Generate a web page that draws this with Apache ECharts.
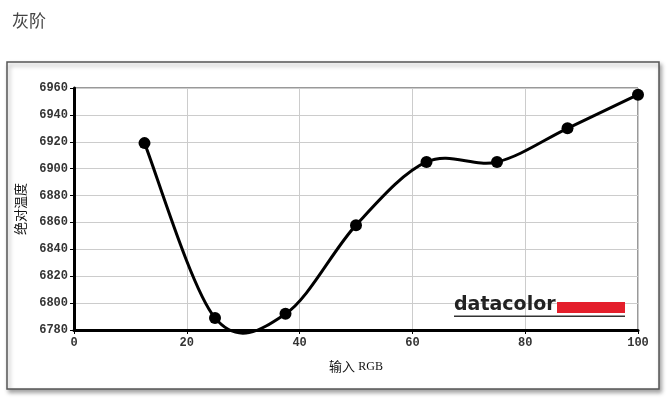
<!DOCTYPE html>
<html>
<head>
<meta charset="utf-8">
<script src="https://cdn.jsdelivr.net/npm/echarts@6/dist/echarts.min.js"></script>
<style>
  html, body { margin: 0; padding: 0; background: #fff; }
  #main { width: 670px; height: 398px; }
</style>
</head>
<body>
<div id="main"></div>
<script>
var inputRgb = [12.5, 25, 37.5, 50, 62.5, 75, 87.5, 100];
var colorTemp = [6919, 6789, 6792, 6858, 6905, 6905, 6930, 6955];
var xTicks = [0, 20, 40, 60, 80, 100];
var yTicks = [6780, 6800, 6820, 6840, 6860, 6880, 6900, 6920, 6940, 6960];

var points = inputRgb.map(function (x, i) { return [x, colorTemp[i]]; });

var myChart = echarts.init(document.getElementById('main'));
var labelFont = {
    color: '#333',
    fontFamily: 'Liberation Mono',
    fontWeight: 'bold',
    fontSize: 12
};

// catmull-rom curve through the data, in pixel space
function renderCurve(params, api) {
    if (params.dataIndex !== 0) return null;
    var p = points.map(function (d) { return api.coord(d); });
    var n = p.length;
    var path = [['M', p[0][0], p[0][1]]];
    for (var i = 0; i < n - 1; i++) {
        var p0 = p[i > 0 ? i - 1 : i];
        var p1 = p[i];
        var p2 = p[i + 1];
        var p3 = p[i + 2 < n ? i + 2 : i + 1];
        var c1x = p1[0] + (p2[0] - p0[0]) / 6;
        var c1y = p1[1] + (p2[1] - p0[1]) / 6;
        var c2x = p2[0] - (p3[0] - p1[0]) / 6;
        var c2y = p2[1] - (p3[1] - p1[1]) / 6;
        path.push(['C', c1x, c1y, c2x, c2y, p2[0], p2[1]]);
    }
    var d = path.map(function (s) { return s[0] + s.slice(1).join(','); }).join(' ');
    return {
        type: 'path',
        shape: { pathData: d },
        style: { fill: null, stroke: '#000', lineWidth: 3 }
    };
}

option = {
    backgroundColor: '#fff',
    animation: false,
    title: {
        text: '灰阶',
        left: 7,
        top: 7,
        textStyle: { color: '#444', fontSize: 17, fontWeight: 'normal', fontFamily: 'Noto Sans CJK SC' }
    },
    graphic: [
        {
            type: 'rect',
            shape: { x: 7, y: 62, width: 652, height: 327 },
            style: { fill: '#fff', stroke: '#555', lineWidth: 1.5, shadowBlur: 4, shadowOffsetX: 2, shadowOffsetY: 3, shadowColor: 'rgba(0,0,0,0.35)' },
            z: -10
        },
        {
            type: 'text',
            left: 454,
            top: 296,
            style: { text: 'datacolor', fill: '#222', font: 'bold 19px "DejaVu Sans"' },
            z: 10
        },
        {
            type: 'rect',
            shape: { x: 557, y: 302, width: 68, height: 11 },
            style: { fill: '#e41e2b' },
            z: 10
        },
        {
            type: 'rect',
            shape: { x: 454, y: 315.5, width: 171, height: 1.5 },
            style: { fill: '#333' },
            z: 10
        }
    ],
    grid: {
        left: 74,
        right: 32,
        top: 88,
        bottom: 68,
        show: true,
        borderColor: '#333',
        borderWidth: 1
    },
    xAxis: {
        type: 'value',
        min: 0,
        max: 100,
        interval: 20,
        name: '{a|输入} {b|RGB}',
        nameLocation: 'middle',
        nameGap: 30,
        nameTextStyle: {
            color: '#111',
            rich: {
                a: { fontSize: 13, fontFamily: 'Noto Sans CJK SC', color: '#111' },
                b: { fontSize: 12, fontFamily: 'Liberation Serif', color: '#111' }
            }
        },
        axisLine: { lineStyle: { color: '#000', width: 3 } },
        axisTick: { show: true, length: 4, lineStyle: { color: '#000', width: 1 } },
        axisLabel: Object.assign({ margin: 7, formatter: function (v) { return xTicks.indexOf(v) >= 0 ? v : ''; } }, labelFont),
        splitLine: { show: true, lineStyle: { color: '#ccc', width: 1 } }
    },
    yAxis: {
        type: 'value',
        min: 6780,
        max: 6960,
        interval: 20,
        name: '绝对温度',
        nameLocation: 'middle',
        nameGap: 47,
        nameTextStyle: { color: '#111', fontSize: 13, fontFamily: 'Noto Sans CJK SC' },
        axisLine: { show: true, lineStyle: { color: '#000', width: 3 } },
        axisTick: { show: true, length: 4, lineStyle: { color: '#000', width: 1 } },
        axisLabel: Object.assign({ margin: 6, formatter: function (v) { return yTicks.indexOf(v) >= 0 ? v : ''; } }, labelFont),
        splitLine: { show: true, lineStyle: { color: '#ccc', width: 1 } }
    },
    series: [
        {
            type: 'custom',
            data: points,
            renderItem: renderCurve,
            z: 3
        },
        {
            type: 'scatter',
            data: points,
            symbol: 'circle',
            symbolSize: 12,
            itemStyle: { color: '#000', opacity: 1 },
            z: 4
        }
    ]
};

myChart.setOption(option);
</script>
</body>
</html>
